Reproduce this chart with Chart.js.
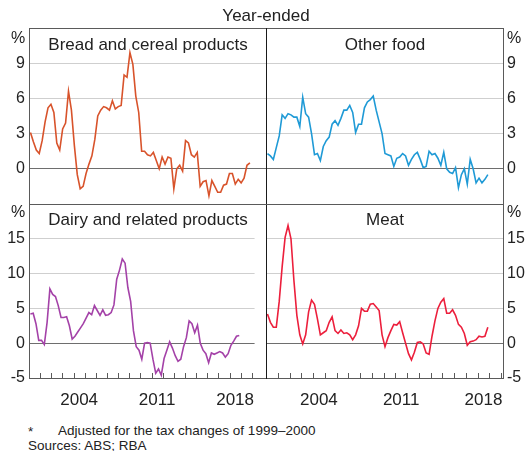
<!DOCTYPE html>
<html><head><meta charset="utf-8">
<script src="https://cdn.jsdelivr.net/npm/chart.js@4"></script>
<style>
html,body{margin:0;padding:0;background:#fff;}
body{width:527px;height:451px;position:relative;overflow:hidden;font-family:"Liberation Sans",Arial,sans-serif;color:#222;}
canvas{position:absolute;}
.t{position:absolute;white-space:nowrap;line-height:1;transform:translate(-50%,-50%);color:#222;}
.l{position:absolute;white-space:nowrap;line-height:1;transform:translate(0,-50%);color:#222;}
.ln{position:absolute;}
</style></head><body>
<canvas id="tl" width="266" height="216" style="left:0;top:8px"></canvas>
<canvas id="tr" width="261" height="216" style="left:266px;top:8px"></canvas>
<canvas id="bl" width="266" height="224" style="left:0;top:184px"></canvas>
<canvas id="br" width="261" height="224" style="left:266px;top:184px"></canvas>

<div class="ln" style="left:29px;top:28px;width:475px;height:351px;box-sizing:border-box;border:1px solid #5a5a5a;"></div>
<div class="ln" style="left:266px;top:28px;width:1px;height:351px;background:#1a1a1a;"></div>
<div class="ln" style="left:29px;top:204px;width:475px;height:1px;background:#5a5a5a;"></div>

<div class="t" style="left:266px;top:15px;font-size:17px;">Year-ended</div>
<div class="t" style="left:148px;top:44px;font-size:17px;">Bread and cereal products</div>
<div class="t" style="left:385px;top:44px;font-size:17px;">Other food</div>
<div class="t" style="left:148px;top:219px;font-size:17px;">Dairy and related products</div>
<div class="t" style="left:385px;top:219px;font-size:17px;">Meat</div>
<div class="t" style="left:18px;top:38px;font-size:16px;">%</div>
<div class="t" style="left:514px;top:38px;font-size:16px;">%</div>
<div class="t" style="left:18px;top:212px;font-size:16px;">%</div>
<div class="t" style="left:514px;top:212px;font-size:16px;">%</div>
<div class="l" style="left:28px;top:432px;font-size:13.5px;">*</div>
<div class="l" style="left:58px;top:431px;font-size:13.5px;">Adjusted for the tax changes of 1999–2000</div>
<div class="l" style="left:28px;top:446px;font-size:13.5px;">Sources: ABS; RBA</div>

<script>
// Categories: quarters 2000 Q1 – 2018 Q4
const quarters = [];
for (let y = 2000; y <= 2018; y++) for (let q = 1; q <= 4; q++) quarters.push(y + '-Q' + q);

// Year-ended % change
const breadCereal = [
  3.1, 2.3, 1.6, 1.3, 2.4, 4.0, 5.2, 5.5, 4.8, 2.2,
  1.6, 3.4, 3.9, 6.6, 5.0, 2.0, -0.5, -1.7, -1.5, -0.4,
  0.4, 1.1, 2.5, 4.5, 5.0, 5.3, 5.2, 5.0, 5.8, 5.1,
  5.3, 5.4, 8.0, 7.8, 9.9, 8.9, 6.2, 4.8, 1.5, 1.5,
  1.2, 1.1, 1.4, 0.7, 0.0, 1.0, 0.4, 1.0, 0.9, -1.7,
  0.0, 0.3, -0.2, 2.4, 2.2, 1.2, 1.0, 1.4,
  -1.5, -1.1, -1.0, -2.3, -1.0, -1.5, -2.0, -2.0, -1.4, -1.3,
  -0.4, -0.4, -1.3, -0.9, -1.2, -0.8, 0.3, 0.5
];
const otherFood = [
  1.3, 1.1, 0.8, 1.8, 2.8, 4.6, 4.3, 4.7, 4.6, 4.4,
  4.4, 3.6, 6.1, 4.7, 4.4, 3.0, 1.2, 1.3, 0.7, 1.9,
  2.4, 2.7, 3.8, 4.1, 3.7, 4.3, 5.0, 5.0, 5.4, 4.8,
  3.1, 3.8, 3.8, 5.2, 5.7, 5.9, 6.2, 5.0, 4.0, 3.0,
  1.3, 1.2, 1.1, 0.2, 0.9, 1.0, 1.3, 1.1, 0.3, 0.8,
  1.2, 1.4, 0.8, 0.1, 0.2, 1.5, 1.2, 1.3, 0.9, 0.3,
  1.4, 0.0, -0.3, -0.4, 0.1, -1.6, -0.5, 0.0, -1.3, 0.8,
  0.0, -1.2, -0.8, -1.2, -0.9, -0.5
];
const dairy = [
  4.2, 4.3, 2.8, 0.4, 0.4, -0.2, 3.0, 7.8, 7.0, 6.7,
  5.4, 3.7, 3.7, 3.8, 2.5, 0.6, 1.0, 1.6, 2.2, 2.8,
  3.6, 4.4, 4.1, 5.4, 4.7, 4.0, 4.8, 4.0, 4.1, 4.4,
  5.5, 9.2, 10.5, 12.1, 11.5, 8.0, 6.0, 1.8, -0.5, -1.0,
  -2.3, 0.0, 0.1, 0.0, -2.3, -4.3, -3.7, -4.6, -2.2, -1.0,
  0.2, -0.7, -1.8, -2.6, -2.3, -0.5, 0.8, 3.2, 2.8, 1.5,
  2.6, 0.0, -1.0, -1.5, -2.8, -1.4, -1.6, -1.4, -1.2, -1.4,
  -2.0, -1.5, -0.3, 0.3, 1.0, 1.1
];
const meat = [
  4.2, 3.0, 2.3, 2.3, 6.0, 11.0, 15.2, 16.9, 15.0, 9.0,
  4.0, 1.2, -0.1, 1.2, 4.5, 6.2, 5.6, 3.5, 1.2, 1.5,
  1.8, 3.0, 3.8, 1.8, 1.4, 1.9, 1.4, 1.5, 1.2, 0.5,
  1.2, 2.5, 5.0, 4.6, 4.6, 5.6, 5.7, 5.2, 4.7, 1.2,
  -0.5, 0.8, 1.8, 2.7, 2.6, 3.1, 1.5, 0.0, -1.5, -2.4,
  -1.3, 0.1, 0.2, -0.1, -1.4, -1.6, 1.0, 3.2, 5.0, 5.9,
  6.4, 4.3, 4.3, 4.8, 4.0, 2.7, 2.3, 1.4, -0.3, 0.2,
  0.3, 0.5, 1.0, 0.9, 1.0, 2.3
];

// Tick labels
const xLabelYears = [2004, 2011, 2018];
const xTickYears = [];
for (let y = 2001; y <= 2020; y++) xTickYears.push(y);
const topTicks = [-3, 0, 3, 6, 9, 12];
const topLabelled = [0, 3, 6, 9];
const bottomTicks = [-5, 0, 5, 10, 15, 20];
const bottomLabelled = [-5, 0, 5, 10, 15];

const X_MIN = 2000, X_MAX = 2020.25;

function quarterToX(q) {
  const [y, qq] = q.split('-Q');
  return +y + (+qq - 0.5) / 4;
}

const tickMarks = {
  id: 'tickMarks',
  afterDraw(chart, args, opts) {
    if (!opts.show) return;
    const xs = chart.scales.x, a = chart.chartArea, ctx = chart.ctx;
    ctx.save();
    ctx.strokeStyle = '#5a5a5a';
    ctx.lineWidth = 1;
    ctx.beginPath();
    xTickYears.forEach(y => {
      const px = Math.round(xs.getPixelForValue(y)) + 0.5;
      if (px > a.left + 1 && px < a.right - 1) {
        ctx.moveTo(px, a.bottom);
        ctx.lineTo(px, a.bottom - 5);
      }
    });
    ctx.stroke();
    ctx.restore();
  }
};

function makeChart(id, values, color, side, yTicks, yLabelled, yMin, yMax, showX) {
  const data = quarters.map((q, i) => ({ x: quarterToX(q), y: values[i] }));
  new Chart(document.getElementById(id), {
    type: 'line',
    data: { datasets: [{ data, borderColor: color, borderWidth: 1.6, pointRadius: 0, tension: 0, fill: false }] },
    options: {
      responsive: false, animation: false, devicePixelRatio: 1,
      layout: { padding: { top: 20, bottom: showX ? 0 : 20, left: 0, right: 0 } },
      plugins: { legend: { display: false }, tooltip: { enabled: false }, tickMarks: { show: showX } },
      scales: {
        x: {
          type: 'linear', min: X_MIN, max: X_MAX, display: showX,
          grid: { display: false, drawTicks: false },
          border: { display: false },
          afterBuildTicks: s => { s.ticks = xLabelYears.map(v => ({ value: v + 0.5 })); },
          afterFit: s => { s.height = showX ? 30 : 0; },
          ticks: {
            autoSkip: false, maxRotation: 0, padding: 12, color: '#222',
            font: { family: 'Liberation Sans', size: 17 },
            callback: v => String(Math.floor(v))
          }
        },
        y: {
          position: side, min: yMin, max: yMax,
          grid: {
            drawTicks: false,
            color: c => (c.tick && c.tick.value === 0) ? '#6e6e6e' : '#cfcfcf',
            lineWidth: 1
          },
          border: { display: false },
          afterBuildTicks: s => { s.ticks = yTicks.map(v => ({ value: v })); },
          afterFit: s => { s.width = side === 'left' ? 29 : 23; },
          ticks: {
            padding: side === 'left' ? 4 : 3, color: '#222',
            font: { family: 'Liberation Sans', size: 16 },
            callback: v => yLabelled.includes(v) ? String(v) : null
          }
        }
      }
    },
    plugins: [tickMarks]
  });
}

makeChart('tl', breadCereal, '#d8532b', 'left', topTicks, topLabelled, -3, 12, false);
makeChart('tr', otherFood, '#1f9ad6', 'right', topTicks, topLabelled, -3, 12, false);
makeChart('bl', dairy, '#a442a8', 'left', bottomTicks, bottomLabelled, -5, 20, true);
makeChart('br', meat, '#ec1f3c', 'right', bottomTicks, bottomLabelled, -5, 20, true);
</script>
</body></html>
